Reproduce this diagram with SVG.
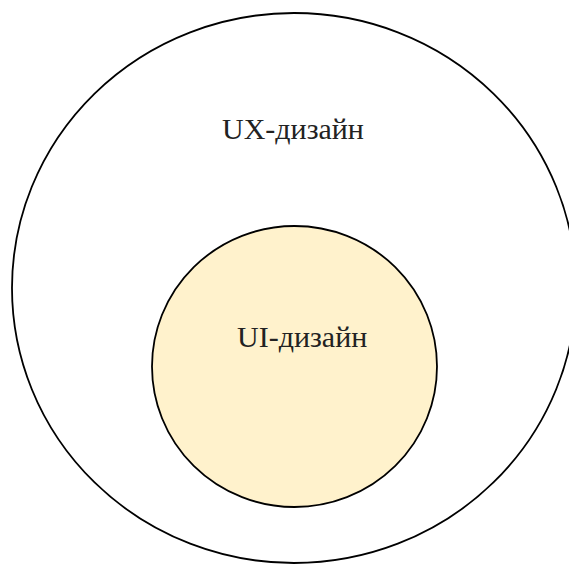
<svg xmlns="http://www.w3.org/2000/svg" width="569" height="564" viewBox="0 0 569 564">
<style>
.shape{stroke:#000;stroke-width:1.8}
.lbl{font-family:"Liberation Serif","Times New Roman",serif;font-size:30px;fill:#222}
</style>
<rect width="569" height="564" fill="#fff"/>
<g id="ux">
<ellipse class="shape" cx="294" cy="288" rx="282" ry="275" fill="#fff"/>
<text class="lbl" x="222" y="139">UX-дизайн</text>
</g>
<g id="ui">
<ellipse class="shape" cx="294.5" cy="366.5" rx="142.5" ry="140.5" fill="#fff2cc"/>
<text class="lbl" x="237" y="347">UI-дизайн</text>
</g>
<g id="connectors"/>
</svg>
